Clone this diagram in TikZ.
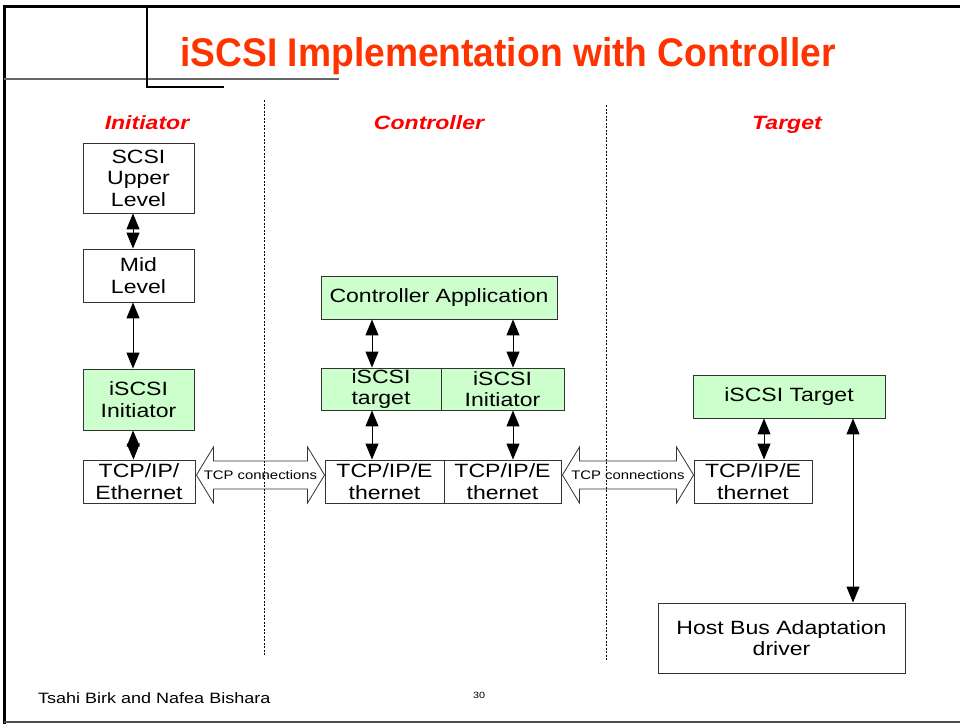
\documentclass[tikz,border=0pt]{standalone}
\usepackage{fontspec}
\setmainfont{Liberation Sans}
\newfontfamily\widefont[FakeStretch=1.2]{Liberation Sans}
\newfontfamily\titlefont[FakeStretch=0.93]{Liberation Sans}
\usetikzlibrary{arrows.meta,calc}
\definecolor{boxgreen}{HTML}{CCFFCC}
\definecolor{titlered}{HTML}{FF3300}
\definecolor{labelred}{HTML}{FF0000}

\tikzset{
  layer/.style={draw=black!80, line width=0.9pt, fill=white, inner sep=0pt,
    align=center, font=\widefont\fontsize{19.2}{21.5}\selectfont},
  greenlayer/.style={layer, fill=boxgreen},
  link/.style={line width=1pt,
    {Triangle[length=16pt,width=13pt]}-{Triangle[length=16pt,width=13pt]}},
  pipe/.style={draw=black!80, line width=0.8pt, fill=white, line join=miter},
  pipelabel/.style={font=\widefont\fontsize{12.4}{14}\selectfont, inner sep=0pt},
  column/.style={font=\widefont\bfseries\itshape\fontsize{19.2}{22}\selectfont,
    text=labelred, anchor=base, inner sep=0pt},
  divider/.style={line width=0.7pt, dash pattern=on 2pt off 1.5pt},
}

\begin{document}
\begin{tikzpicture}[x=1pt,y=-1pt]
\useasboundingbox (0,0) rectangle (960,724);

% slide frame
\draw[line width=3pt] (4,724) -- (4,6) -- (960,6);
\draw[black!70, line width=2pt] (4,722) -- (960,722);
\draw[black!60, line width=1.5pt] (4,79) -- (339,79);
\draw[line width=1.2pt] (147,6) -- (147,87) -- (224,87);

% title and column headings
\node[font=\titlefont\bfseries\fontsize{40}{44}\selectfont, text=titlered,
      anchor=base, inner sep=0pt] (title) at (508,66)
      {iSCSI Implementation with Controller};
\node[column] (hInit) at (147,129) {Initiator};
\node[column] (hCtrl) at (429,129) {Controller};
\node[column] (hTgt)  at (787,129) {Target};

% initiator stack
\node[layer, minimum width=111pt, minimum height=70pt] (scsi) at (138.5,178) {SCSI\\Upper\\Level};
\node[layer, minimum width=111pt, minimum height=53pt] (mid) at (138.5,275.5) {Mid\\Level};
\node[greenlayer, minimum width=111pt, minimum height=61pt] (iniI) at (138.5,399.5) {iSCSI\\Initiator};
\node[layer, minimum width=112pt, minimum height=43pt] (tcpI) at (139,481.5) {TCP/IP/\\Ethernet};

% controller stack
\node[greenlayer, minimum width=236pt, minimum height=43pt] (app) at (439,297.5) {Controller Application};
\node[greenlayer, minimum width=120pt, minimum height=42pt] (tgtC) at (381,389) {iSCSI\\target};
\node[greenlayer, minimum width=123pt, minimum height=42pt] (iniC) at (502.5,389) {iSCSI\\Initiator};
\node[layer, minimum width=119pt, minimum height=43pt] (tcpC1) at (384.5,481.5) {TCP/IP/E\\thernet};
\node[layer, minimum width=117pt, minimum height=43pt] (tcpC2) at (502.5,481.5) {TCP/IP/E\\thernet};

% target stack
\node[greenlayer, minimum width=192pt, minimum height=43pt] (tgtT) at (789,396.5) {iSCSI Target};
\node[layer, minimum width=118pt, minimum height=43pt] (tcpT) at (753,481.5) {TCP/IP/E\\thernet};
\node[layer, minimum width=247pt, minimum height=70pt] (hba) at (781.5,638) {Host Bus Adaptation\\driver};

% vertical links
\draw[link] ([xshift=-5.5pt]scsi.south) -- ([xshift=-5.5pt]mid.north);
\draw[link] ([xshift=-5.5pt]mid.south) -- ([xshift=-5.5pt]iniI.north);
\draw[link] ([xshift=-5.5pt]iniI.south) -- ([xshift=-5.5pt]tcpI.north);

\coordinate (ca) at (372,0);
\coordinate (cb) at (513,0);
\draw[link] (app.south -| ca) -- (tgtC.north -| ca);
\draw[link] (app.south -| cb) -- (iniC.north -| cb);
\draw[link] (tgtC.south -| ca) -- (tcpC1.north -| ca);
\draw[link] (iniC.south -| cb) -- (tcpC2.north -| cb);

\coordinate (ta) at (764,0);
\coordinate (tb) at (853,0);
\draw[link] (tgtT.south -| ta) -- (tcpT.north -| ta);
\draw[link] (tgtT.south -| tb) -- (hba.north -| tb);

% TCP connection pipes
\coordinate (p1l) at ($(tcpI.east)+(1,-6.5)$);
\coordinate (p1r) at ($(tcpC1.west)+(0,-6.5)$);
\draw[pipe] (p1l) -- ++(17,-28) -- ++(0,14) -- ($(p1r)+(-17,-14)$) -- ++(0,-14)
  -- (p1r) -- ++(-17,28) -- ++(0,-14) -- ($(p1l)+(17,14)$) -- ++(0,14) -- cycle;
\node[pipelabel] (pipe1) at ($(p1l)!0.5!(p1r)$) {TCP connections};

\coordinate (p2l) at ($(tcpC2.east)+(1,-6.5)$);
\coordinate (p2r) at ($(tcpT.west)+(0,-6.5)$);
\draw[pipe] (p2l) -- ++(17,-28) -- ++(0,14) -- ($(p2r)+(-17,-14)$) -- ++(0,-14)
  -- (p2r) -- ++(-17,28) -- ++(0,-14) -- ($(p2l)+(17,14)$) -- ++(0,14) -- cycle;
\node[pipelabel] (pipe2) at ($(p2l)!0.5!(p2r)$) {TCP connections};

% column dividers
\draw[divider] (264,100) -- (264,655);
\draw[divider] (606,105) -- (606,660);

% footer
\node[font=\widefont\fontsize{15}{17}\selectfont, anchor=base west, inner sep=0pt]
  (author) at (38,703) {Tsahi Birk and Nafea Bishara};
\node[font=\widefont\fontsize{9}{10}\selectfont, anchor=base, inner sep=0pt]
  (page) at (479,698) {30};
\end{tikzpicture}
\end{document}
